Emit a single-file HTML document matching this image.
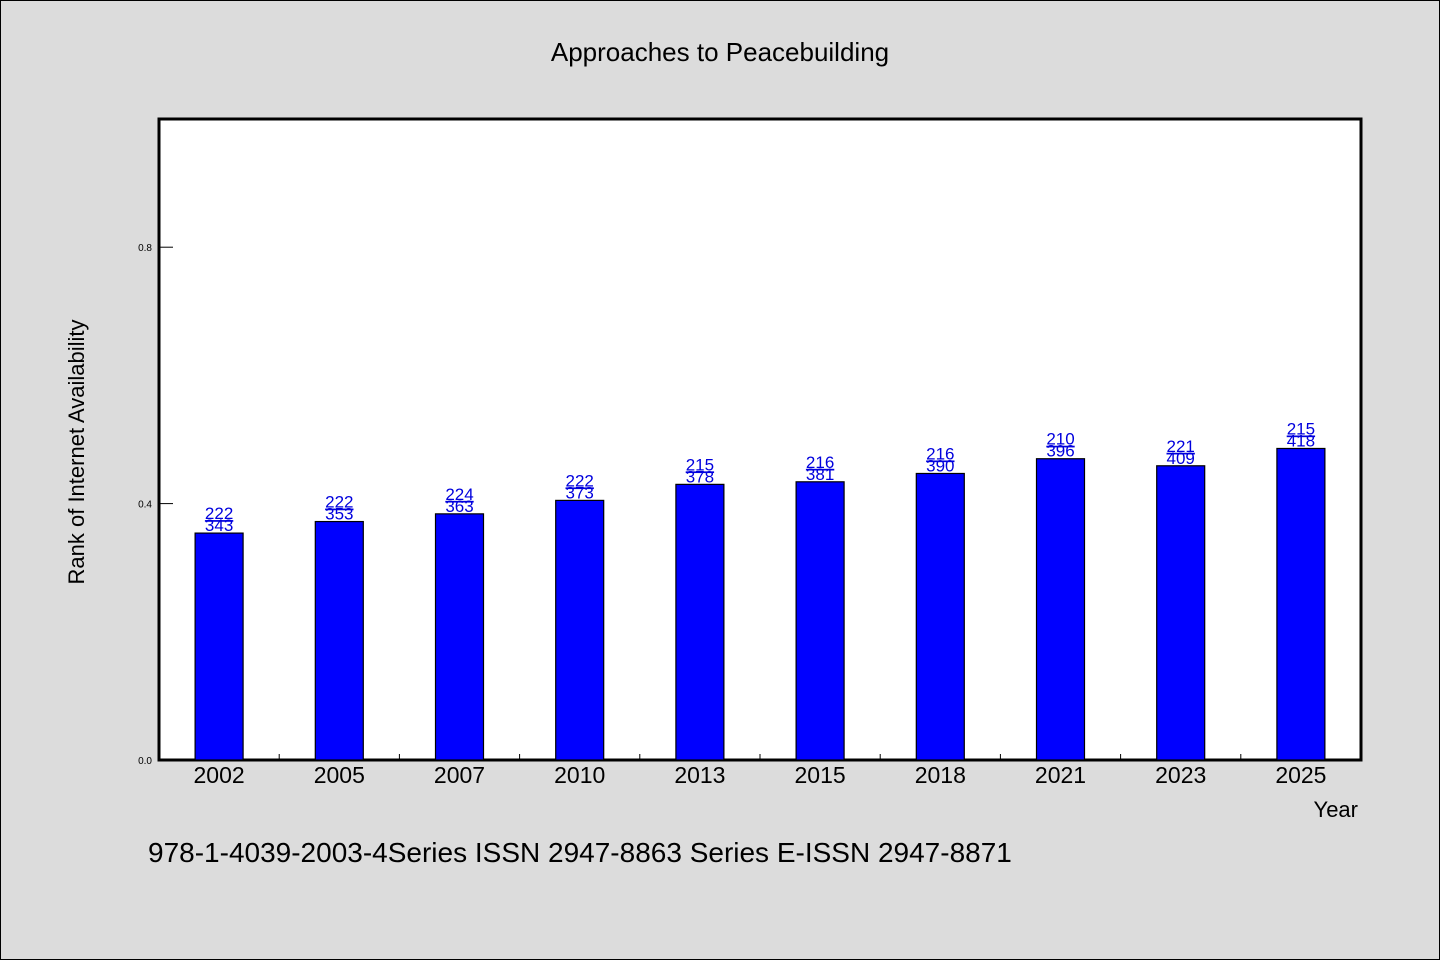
<!DOCTYPE html>
<html><head><meta charset="utf-8"><style>
body{margin:0;background:#dcdcdc;}
svg{display:block;font-family:"WenQuanYi Zen Hei","Liberation Sans",sans-serif;}
</style></head><body>
<svg id="chart" width="1440" height="960">
<rect x="0.5" y="0.5" width="1439" height="959" fill="#dcdcdc" stroke="#000"/>
<text x="720" y="61" text-anchor="middle" font-size="26">Approaches to Peacebuilding</text>
<rect x="159" y="119" width="1202" height="641" fill="#fff" stroke="#000" stroke-width="3"/>
<g id="bars"></g>
<text transform="translate(84,452) rotate(-90)" text-anchor="middle" font-size="22">Rank of Internet Availability</text>
<text x="1358" y="817" text-anchor="end" font-size="22">Year</text>
<text x="148" y="862" font-size="28">978-1-4039-2003-4Series ISSN 2947-8863 Series E-ISSN 2947-8871</text>
</svg>
<script>
const categories=["2002","2005","2007","2010","2013","2015","2018","2021","2023","2025"];
const values=[0.354,0.372,0.384,0.405,0.430,0.434,0.447,0.470,0.459,0.486];
const topLabels=["222","222","224","222","215","216","216","210","221","215"];
const bottomLabels=["343","353","363","373","378","381","390","396","409","418"];
const yTicks=[0.0,0.4,0.8];
const yTickLabels=["0.0","0.4","0.8"];
const NS="http://www.w3.org/2000/svg";
const L=159,R=1361,T=119,B=760;
const x=i=>L+(R-L)/categories.length*(i+0.5);
const y=v=>B-(B-T)*v/1.0;
const g=document.getElementById('bars');
function mk(tag,attrs){const e=document.createElementNS(NS,tag);for(const k in attrs)e.setAttribute(k,attrs[k]);g.appendChild(e);return e;}
yTicks.forEach((v,i)=>{
  const t=mk('line',{x1:L,x2:L+14,y1:y(v),y2:y(v),stroke:'#000'});
  
  
  const lb=mk('text',{x:L-7,y:y(v)+4,'text-anchor':'end','font-size':10});
  lb.textContent=yTickLabels[i];
  
  
});
const step=(R-L)/categories.length;
categories.forEach((c,i)=>{
  if(i>0){const tk=mk('line',{x1:L+step*i,x2:L+step*i,y1:B,y2:B-6,stroke:'#000'});
  
  }
  const bw=48;
  const r=mk('rect',{x:x(i)-bw/2,y:y(values[i]),width:bw,height:B-y(values[i]),fill:'#0000ff',stroke:'#000','stroke-width':1.2});
  
  
  const t1=mk('text',{x:x(i),y:y(values[i])-14,'text-anchor':'middle','font-size':17,fill:'#0000dd','text-decoration':'underline'});
  t1.textContent=topLabels[i];
  
  
  const t2=mk('text',{x:x(i),y:y(values[i])-2,'text-anchor':'middle','font-size':17,fill:'#0000dd'});
  t2.textContent=bottomLabels[i];
  
  
  const xl=mk('text',{x:x(i),y:B+23,'text-anchor':'middle','font-size':23});
  xl.textContent=c;
  
  
});
</script>
</body></html>
